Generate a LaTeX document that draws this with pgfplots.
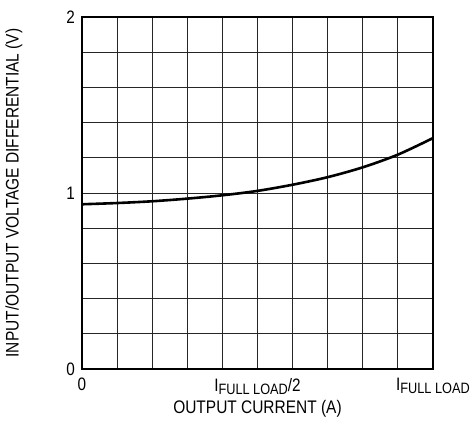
\documentclass[border=0pt]{standalone}
\usepackage{fontspec}
\setmainfont{Liberation Sans}[FakeStretch=0.85]
\usepackage{pgfplots}
\pgfplotsset{compat=1.18}
\begin{document}
\fontsize{18}{20}\selectfont
\begin{tikzpicture}
\begin{axis}[
  at={(0,0)}, anchor=south west,
  scale only axis, width=351pt, height=352pt,
  xmin=0, xmax=1, ymin=0, ymax=2,
  xtick={0,0.5,1},
  xticklabels={0,{I\raisebox{-0.35ex}{\fontsize{15}{16}\selectfont FULL LOAD}/2},{I\raisebox{-0.35ex}{\fontsize{15}{16}\selectfont FULL LOAD}}},
  ytick={0,1,2}, yticklabels={0,1,2},
  minor x tick num=4, minor y tick num=4,
  grid=both,
  major tick length=0pt, minor tick length=0pt,
  grid style={black!85, line width=0.8pt},
  minor grid style={black!85, line width=0.8pt},
  axis line style={black, line width=1.4pt},
  tick label style={font=\fontsize{18}{20}\selectfont},
  xticklabel style={yshift=-3pt},
  yticklabel style={xshift=-1pt},
  label style={font=\fontsize{18.2}{20}\selectfont},
  xlabel={OUTPUT CURRENT (A)},
  ylabel={INPUT/OUTPUT VOLTAGE DIFFERENTIAL (V)},
  xlabel style={at={(axis description cs:0.5,-0.114)}, anchor=center},
  ylabel style={at={(axis description cs:-0.194,0.5)}, anchor=center, rotate=0},
]
\addplot[black, line width=2.6pt, smooth] coordinates {
(0,0.936) (0.1,0.943) (0.2,0.953) (0.3,0.968) (0.4,0.987) (0.5,1.012)
(0.6,1.047) (0.7,1.090) (0.8,1.146) (0.9,1.218) (1.0,1.312)
};
\end{axis}
\pgfresetboundingbox
\useasboundingbox (-82pt,-55pt) rectangle (393pt,369pt);
\end{tikzpicture}
\end{document}
